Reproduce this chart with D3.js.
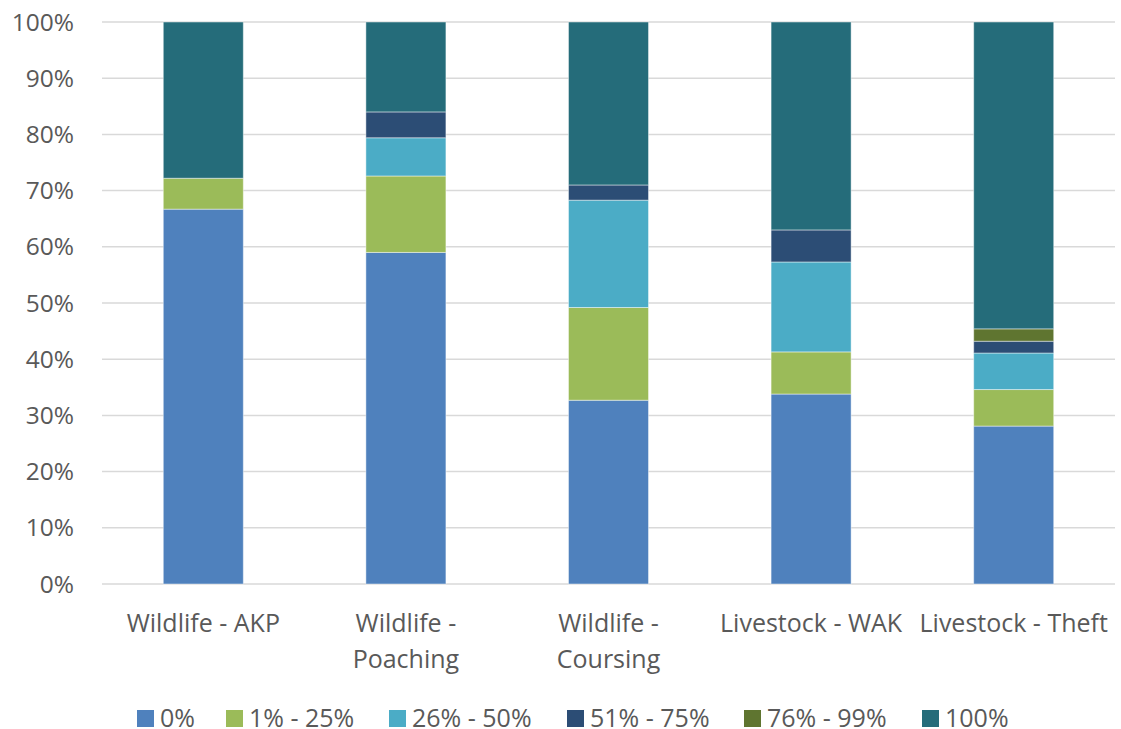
<!DOCTYPE html>
<html>
<head>
<meta charset="utf-8">
<script src="https://cdn.jsdelivr.net/npm/d3@7"></script>
<style>
  html, body { margin: 0; padding: 0; background: #fff; }
  text { font-family: "Open Sans", "Noto Sans", sans-serif; fill: #595959; }
</style>
</head>
<body>
<svg id="chart" width="1121" height="729"></svg>
<script>
// Categories and their axis labels (line breaks as shown under each bar)
const categories = ["Wildlife - AKP", "Wildlife - Poaching", "Wildlife - Coursing", "Livestock - WAK", "Livestock - Theft"];
const categoryLabels = [["Wildlife - AKP"], ["Wildlife -", "Poaching"], ["Wildlife -", "Coursing"], ["Livestock - WAK"], ["Livestock - Theft"]];

// Share (%) of responses in each band, per category
const seriesNames = ["0%", "1% - 25%", "26% - 50%", "51% - 75%", "76% - 99%", "100%"];
const s0   = [66.7, 59.0, 32.7, 33.8, 28.1];
const s1   = [5.5, 13.6, 16.5, 7.5, 6.5];
const s26  = [0, 6.8, 19.1, 16.0, 6.5];
const s51  = [0, 4.6, 2.7, 5.7, 2.1];
const s76  = [0, 0, 0, 0, 2.2];
const s100 = [27.8, 16.0, 29.0, 37.0, 54.6];
const seriesValues = [s0, s1, s26, s51, s76, s100];
const colors = ["#4F81BD", "#9BBB59", "#4BACC6", "#2C4D75", "#5F7530", "#256C7A"];

const yTicks = [0, 10, 20, 30, 40, 50, 60, 70, 80, 90, 100];

const svg = d3.select("#chart");
const plot = { left: 102, right: 1115, top: 22, bottom: 584 };

const x = d3.scaleBand().domain(categories).range([plot.left, plot.right]).paddingInner(0.605).paddingOuter(0.3025);
const y = d3.scaleLinear().domain([0, 100]).range([plot.bottom, plot.top]);

// Gridlines
svg.append("g").selectAll("line").data(yTicks).join("line")
  .attr("x1", plot.left).attr("x2", plot.right)
  .attr("y1", d => y(d)).attr("y2", d => y(d))
  .attr("stroke", "#d9d9d9").attr("stroke-width", 1.5);

// Y axis labels
svg.append("g").selectAll("text").data(yTicks).join("text")
  .attr("x", 74).attr("y", d => y(d))
  .attr("dy", "0.35em").attr("text-anchor", "end")
  .attr("font-size", 24.5)
  .text(d => d + "%");

// Stacked bars
const rows = categories.map((c, i) => {
  const r = { cat: c };
  seriesNames.forEach((s, k) => r[s] = seriesValues[k][i]);
  return r;
});
const stacked = d3.stack().keys(seriesNames)(rows);

svg.append("g").selectAll("g").data(stacked).join("g")
  .attr("fill", (d, k) => colors[k])
  .selectAll("rect").data(d => d.filter(p => p[1] - p[0] > 0)).join("rect")
  .attr("x", d => x(d.data.cat))
  .attr("width", x.bandwidth())
  .attr("y", d => y(d[1]))
  .attr("height", d => y(d[0]) - y(d[1]))
  .attr("stroke", "rgba(255,255,255,0.45)")
  .attr("stroke-width", 1);

// Category labels
const catG = svg.append("g");
categories.forEach((c, i) => {
  const cx = x(c) + x.bandwidth() / 2;
  const t = catG.append("text")
    .attr("x", cx)
    .attr("y", 632)
    .attr("text-anchor", "middle")
    .attr("font-size", 25);
  categoryLabels[i].forEach((line, j) => {
    t.append("tspan").attr("x", cx).attr("dy", j === 0 ? 0 : 36).text(line);
  });
});

// Legend
const legendX = [137, 226, 389, 567, 744, 922];
const legend = svg.append("g").selectAll("g").data(seriesNames).join("g")
  .attr("transform", (d, k) => `translate(${legendX[k]},710)`);
legend.append("rect").attr("width", 17).attr("height", 17).attr("fill", (d, k) => colors[k]);
legend.append("text").attr("x", 23).attr("y", 8.5).attr("dy", "0.35em")
  .attr("font-size", 25).text(d => d);
</script>
</body>
</html>
